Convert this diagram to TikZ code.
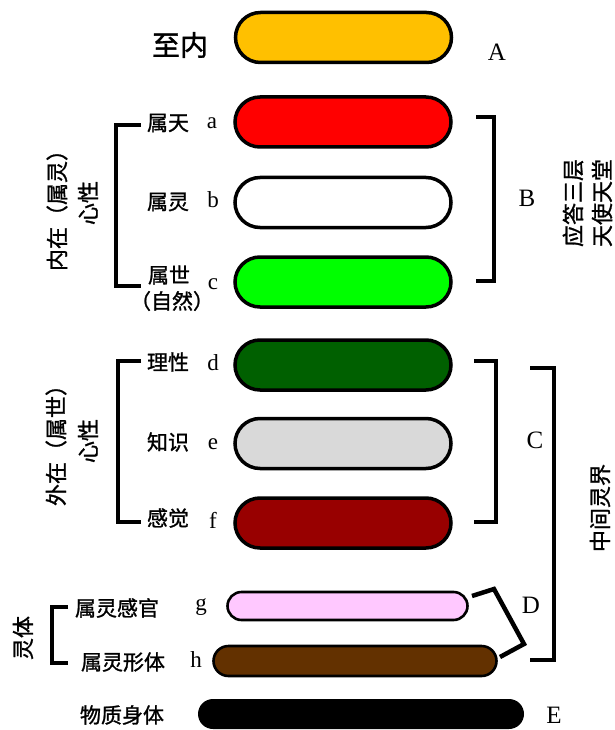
\documentclass[tikz,border=0pt]{standalone}
\usepackage{fontspec}
\setmainfont{Liberation Serif}
\newfontfamily\cjk[FakeBold=1.2]{Noto Sans CJK SC}
\usetikzlibrary{shapes.misc}
\definecolor{cA}{HTML}{FFC000}
\definecolor{ca}{HTML}{FF0000}
\definecolor{cc}{HTML}{00FF00}
\definecolor{cd}{HTML}{006000}
\definecolor{ce}{HTML}{D9D9D9}
\definecolor{cf}{HTML}{980000}
\definecolor{cg}{HTML}{FFC8FF}
\definecolor{ch}{HTML}{633100}
\tikzset{
  pill/.style={draw=black, line width=3.5pt, rounded rectangle, minimum width=216pt, minimum height=50pt, inner sep=0pt},
  thinpill/.style={draw=black, line width=2.6pt, rounded rectangle, inner sep=0pt},
  cn/.style={font=\cjk\fontsize{21pt}{24pt}\selectfont, inner sep=0pt},
  cnbig/.style={font=\cjk\fontsize{28pt}{30pt}\selectfont, inner sep=0pt},
  vt/.style={font=\cjk\fontsize{22pt}{24pt}\selectfont, inner sep=0pt, rotate=90},
  vtr/.style={font=\cjk\fontsize{22pt}{24pt}\selectfont, inner sep=0pt, rotate=90},
  lat/.style={font=\fontsize{23pt}{26pt}\selectfont, inner sep=0pt},
  capletter/.style={font=\fontsize{25pt}{28pt}\selectfont, inner sep=0pt},
  brk/.style={line width=4.5pt, line join=miter, line cap=butt}
}
\begin{document}
\begin{tikzpicture}[x=1pt,y=-1pt]
\useasboundingbox[fill=white] (0,0) rectangle (615,730);
% pills
\node[pill, fill=cA] (pA) at (343.5,37.5) {};
\node[pill, fill=ca] (pa) at (343,122) {};
\node[pill, fill=white] (pb) at (343,202.5) {};
\node[pill, fill=cc] (pc) at (343,282) {};
\node[pill, fill=cd] (pd) at (343,365) {};
\node[pill, fill=ce] (pe) at (343,443.5) {};
\node[pill, fill=cf] (pf) at (343,523) {};
\node[thinpill, fill=cg, minimum width=240pt, minimum height=28pt] (pg) at (347.5,606) {};
\node[thinpill, fill=ch, minimum width=283pt, minimum height=30pt] (ph) at (355,661) {};
\node[rounded rectangle, fill=black, minimum width=326pt, minimum height=30pt, inner sep=0pt] (pE) at (361,714) {};
% left labels
\node[cnbig] (tA) at (180,45) {至内};
\node[cn] (ta) at (168,123) {属天};
\node[lat] (la) at (212,123) {a};
\node[cn] (tb) at (168,202) {属灵};
\node[lat] (lb) at (213,200) {b};
\node[cn] (tc) at (169,275) {属世};
\node[cn] (tc2) at (172,301) {（自然）};
\node[lat] (lc) at (213,284) {c};
\node[cn] (td) at (168,362) {理性};
\node[lat] (ld) at (213,363) {d};
\node[cn] (te) at (168,442) {知识};
\node[lat] (le) at (213,444) {e};
\node[cn] (tf) at (168,518) {感觉};
\node[lat] (lf) at (213,520) {f};
\node[cn] (tg) at (117,608) {属灵感官};
\node[lat] (lg) at (201,607) {g};
\node[cn] (th) at (123,662) {属灵形体};
\node[lat] (lh) at (196,660) {h};
\node[cn] (tE) at (122,715) {物质身体};
% capital letters
\node[capletter] (kA) at (497,52) {A};
\node[capletter] (kB) at (527,198) {B};
\node[capletter] (kC) at (535,440) {C};
\node[capletter] (kD) at (531,605) {D};
\node[capletter] (kE) at (554,715) {E};
% vertical texts
\node[vt] (v1) at (57,205) {内在（属灵）};
\node[vt] (v2) at (88,203) {心性};
\node[vt] (v3) at (56,440) {外在（属世）};
\node[vt] (v4) at (88,441) {心性};
\node[vtr] (v5) at (573,203) {应答三层};
\node[vtr] (v6) at (602,203) {天使天堂};
\node[vt] (v7) at (600,508) {中间灵界};
\node[vt] (v8) at (23,638) {灵体};
% brackets
\draw[brk] (141,125) -- (116,125) -- (116,286) -- (141,286);
\draw[brk] (476,117) -- (494,117) -- (494,281) -- (476,281);
\draw[brk] (141,361) -- (118,361) -- (118,522) -- (141,522);
\draw[brk] (474,361) -- (496,361) -- (496,522) -- (474,522);
\draw[brk] (530,368) -- (554,368) -- (554,660) -- (530,660);
\draw[brk] (68,607) -- (52,607) -- (52,663) -- (68,663);
\draw[brk] (472,596) -- (494,589) -- (524,644) -- (500,657);
\end{tikzpicture}
\end{document}
